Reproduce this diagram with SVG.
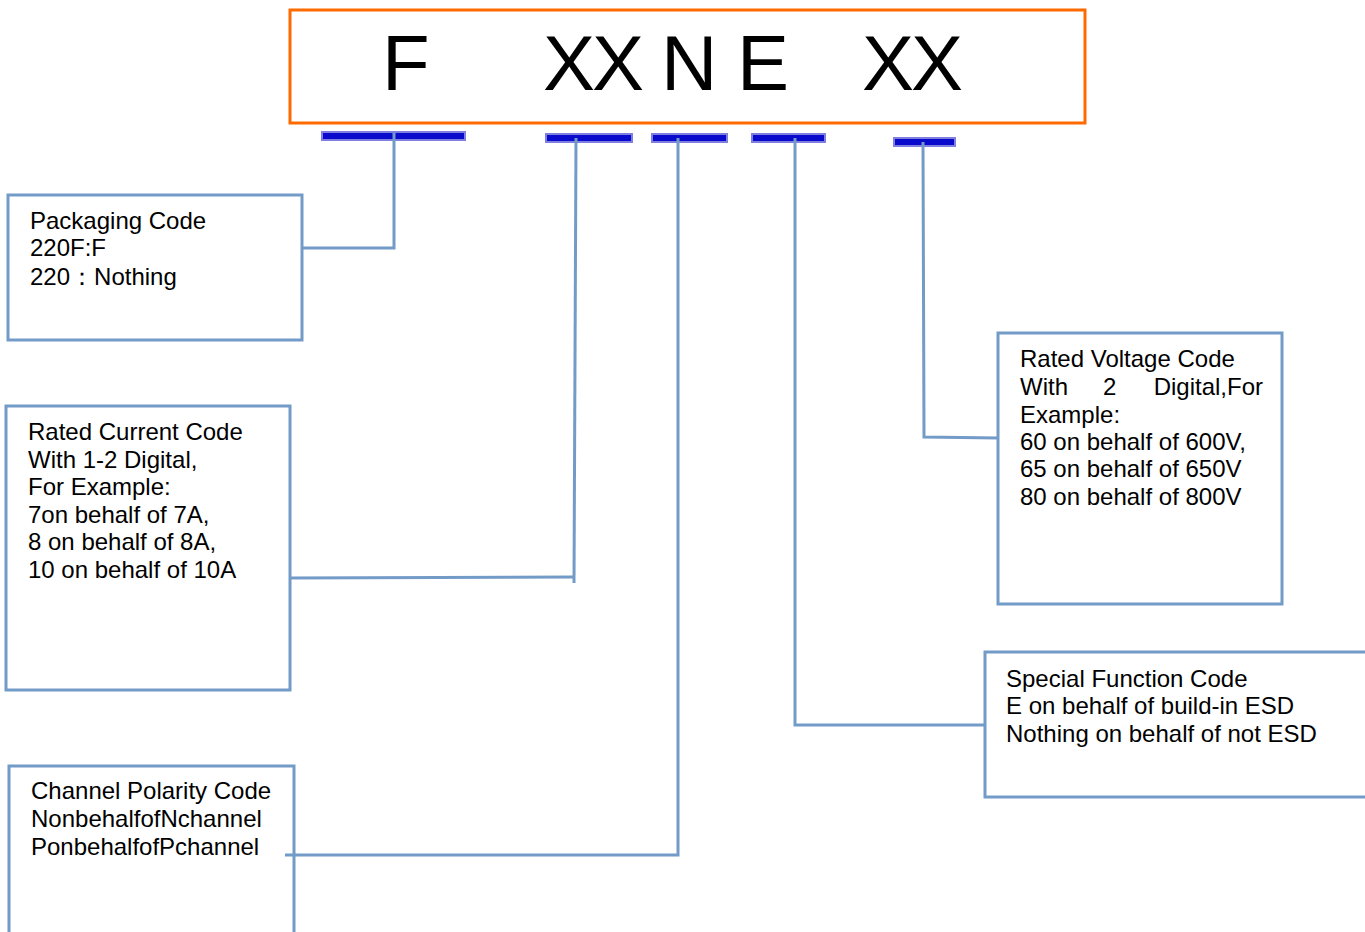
<svg xmlns="http://www.w3.org/2000/svg" width="1365" height="932" viewBox="0 0 1365 932">
<style>
.box{fill:#fff;stroke:#739BC8;stroke-width:3}
.conn{fill:none;stroke:#739BC8;stroke-width:3}
.bar{fill:#0A0ACC;stroke:#7F7FE0;stroke-width:2}
.t{font-family:"Liberation Sans",Arial,sans-serif;font-size:24px;fill:#000}
.big{font-family:"Liberation Sans",Arial,sans-serif;font-size:78px;fill:#000}
</style>
<rect x="0" y="0" width="1365" height="932" fill="#fff"/>
<g id="code">
<rect x="290" y="10" width="795" height="113" fill="#fff" stroke="#FF6A00" stroke-width="3"/>
<text class="big" x="382" y="90">F</text>
<text class="big" x="543" y="90">X</text>
<text class="big" x="592" y="90">X</text>
<text class="big" x="661" y="90">N</text>
<text class="big" x="737" y="90">E</text>
<text class="big" x="862" y="90">X</text>
<text class="big" x="911" y="90">X</text>
</g>
<g id="bars">
<rect class="bar" x="322" y="132" width="143" height="8"/>
<rect class="bar" x="546" y="134" width="86" height="8"/>
<rect class="bar" x="652" y="134" width="75" height="8"/>
<rect class="bar" x="752" y="134" width="73" height="8"/>
<rect class="bar" x="894" y="138" width="61" height="8"/>
</g>
<g id="packaging">
<rect class="box" x="8" y="195" width="294" height="145"/>
<text class="t" x="30" y="229">Packaging Code</text>
<text class="t" x="30" y="256">220F:F</text>
<text class="t" x="30" y="285">220：Nothing</text>
</g>
<g id="current">
<rect class="box" x="6" y="406" width="284" height="284"/>
<text class="t" x="28" y="440">Rated Current Code</text>
<text class="t" x="28" y="468">With 1-2 Digital,</text>
<text class="t" x="28" y="495">For Example:</text>
<text class="t" x="28" y="523">7on behalf of 7A,</text>
<text class="t" x="28" y="550">8 on behalf of 8A,</text>
<text class="t" x="28" y="578">10 on behalf of 10A</text>
</g>
<g id="polarity">
<rect class="box" x="9" y="766" width="285" height="175"/>
<text class="t" x="31" y="799">Channel Polarity Code</text>
<text class="t" x="31" y="827">NonbehalfofNchannel</text>
<text class="t" x="31" y="855">PonbehalfofPchannel</text>
</g>
<g id="special">
<rect class="box" x="985" y="652" width="390" height="145"/>
<text class="t" x="1006" y="687">Special Function Code</text>
<text class="t" x="1006" y="714">E on behalf of build-in ESD</text>
<text class="t" x="1006" y="742">Nothing on behalf of not ESD</text>
</g>
<g id="voltage">
<rect class="box" x="998" y="333" width="284" height="271"/>
<text class="t" x="1020" y="367">Rated Voltage Code</text>
<text class="t" x="1020" y="395">With</text>
<text class="t" x="1103" y="395">2</text>
<text class="t" x="1263" y="395" text-anchor="end">Digital,For</text>
<text class="t" x="1020" y="423">Example:</text>
<text class="t" x="1020" y="450">60 on behalf of 600V,</text>
<text class="t" x="1020" y="477">65 on behalf of 650V</text>
<text class="t" x="1020" y="505">80 on behalf of 800V</text>
</g>
<g id="connectors">
<polyline class="conn" points="394,133 394,248 302,248"/>
<polyline class="conn" points="576,138 574,583"/>
<polyline class="conn" points="290,578 574,577"/>
<polyline class="conn" points="678,138 678,855 285,855"/>
<polyline class="conn" points="795,138 795,725 985,725"/>
<polyline class="conn" points="923,142 924,437 998,438"/>
</g>
</svg>
